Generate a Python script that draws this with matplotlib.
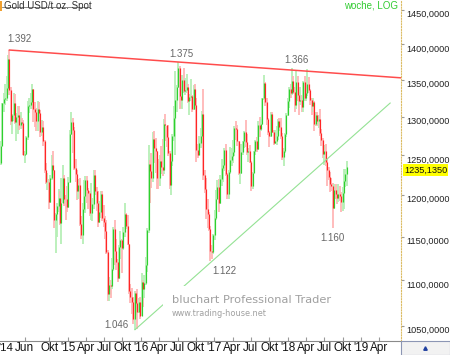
import numpy as np
import pandas as pd
import matplotlib
matplotlib.use('Agg')
import matplotlib.pyplot as plt
import matplotlib.dates as mdates
from matplotlib.patches import Rectangle
from matplotlib.ticker import NullLocator

plt.rcParams['font.family'] = ['Liberation Sans', 'DejaVu Sans']

# weekly gold spot (USD/t oz.), weeks starting Monday 2014-02-03
first_open = 1240
close = [
    # 2014
    1262, 1318, 1324, 1326,
    1339, 1379, 1336, 1294, 1303,
    1318, 1293, 1300, 1302,
    1290, 1293, 1292, 1250,
    1252, 1274, 1315, 1316, 1320,
    1337, 1310, 1306, 1294,
    1311, 1305, 1280, 1287,
    1268, 1231, 1216, 1217, 1192,
    1222, 1238, 1231, 1170,
    1177, 1187, 1197, 1167,
    1191, 1222, 1196, 1195, 1186,
    # 2015
    1216, 1277, 1293, 1283,
    1234, 1227, 1205, 1213,
    1165, 1152, 1183, 1199, 1219,
    1207, 1203, 1178, 1178,
    1189, 1225, 1205, 1190,
    1168, 1180, 1201, 1173, 1168,
    1157, 1132, 1085, 1095,
    1094, 1113, 1159, 1134, 1121,
    1103, 1138, 1146, 1137,
    1156, 1177, 1163, 1142,
    1088, 1081, 1076, 1057, 1086,
    1075, 1065, 1076, 1061,
    # 2016
    1098, 1090, 1097, 1117,
    1158, 1239, 1230, 1221, 1271,
    1259, 1255, 1222, 1221,
    1243, 1235, 1231, 1291,
    1290, 1273, 1253, 1213, 1243,
    1275, 1299, 1323, 1340,
    1366, 1328, 1323, 1350,
    1335, 1336, 1341, 1321, 1327,
    1328, 1310, 1337, 1316,
    1257, 1251, 1266, 1275, 1304,
    1225, 1208, 1183, 1177,
    1159, 1134, 1133, 1152,
    # 2017
    1173, 1196, 1210, 1191, 1220,
    1234, 1238, 1257, 1227,
    1201, 1229, 1244, 1249,
    1254, 1285, 1284, 1268,
    1228, 1228, 1254, 1268, 1280,
    1267, 1254, 1256, 1242,
    1212, 1228, 1255, 1269, 1258,
    1289, 1284, 1291, 1325,
    1346, 1320, 1297, 1280,
    1275, 1304, 1280, 1266, 1269,
    1275, 1294, 1287, 1275,
    1248, 1256, 1278, 1303,
    # 2018
    1322, 1338, 1332, 1349, 1333,
    1316, 1347, 1330, 1322,
    1323, 1313, 1347, 1325,
    1332, 1345, 1336, 1323, 1315,
    1320, 1291, 1302, 1294,
    1297, 1279, 1270, 1252,
    1256, 1241, 1231, 1223, 1214,
    1212, 1184, 1206, 1201,
    1197, 1201, 1199, 1192,
    1203, 1218, 1227, 1235.135,
]
high = [
    1268, 1319, 1332, 1345,
    1355, 1385, 1392, 1340, 1304,
    1332, 1331, 1305, 1315,
    1315, 1306, 1299, 1296,
    1256, 1275, 1321, 1325, 1332,
    1345, 1338, 1320, 1312,
    1322, 1320, 1309, 1296,
    1295, 1270, 1240, 1228, 1220,
    1225, 1250, 1255, 1232,
    1178, 1191, 1208, 1205,
    1222, 1238, 1225, 1200, 1212,
    1223, 1283, 1307, 1298,
    1287, 1245, 1232, 1220,
    1221, 1175, 1190, 1219, 1224,
    1224, 1209, 1205, 1215,
    1197, 1232, 1232, 1210,
    1205, 1193, 1205, 1205, 1188,
    1175, 1170, 1135, 1104,
    1100, 1126, 1162, 1170, 1147,
    1124, 1141, 1157, 1148,
    1162, 1191, 1179, 1176,
    1142, 1096, 1091, 1081, 1088,
    1088, 1090, 1080, 1082,
    1108, 1100, 1106, 1127,
    1160, 1263, 1244, 1253, 1280,
    1282, 1272, 1255, 1245,
    1250, 1262, 1271, 1297,
    1304, 1288, 1290, 1256, 1245,
    1278, 1315, 1362, 1343,
    1375, 1370, 1338, 1357,
    1367, 1353, 1358, 1345, 1331,
    1352, 1329, 1343, 1345,
    1325, 1265, 1275, 1286, 1308,
    1338, 1232, 1222, 1195,
    1180, 1163, 1140, 1153,
    1182, 1207, 1219, 1220, 1225,
    1245, 1244, 1260, 1264,
    1228, 1231, 1261, 1260,
    1270, 1288, 1295, 1290,
    1269, 1236, 1264, 1269, 1282,
    1296, 1277, 1260, 1263,
    1243, 1229, 1256, 1270, 1274,
    1294, 1300, 1297, 1326,
    1357, 1347, 1326, 1298,
    1282, 1306, 1306, 1283, 1283,
    1288, 1297, 1299, 1299,
    1279, 1260, 1279, 1305,
    1326, 1340, 1345, 1366, 1355,
    1340, 1362, 1356, 1333,
    1340, 1329, 1349, 1356,
    1346, 1365, 1354, 1338, 1326,
    1326, 1321, 1307, 1307,
    1303, 1310, 1284, 1272,
    1263, 1265, 1245, 1235, 1229,
    1221, 1215, 1214, 1214,
    1206, 1214, 1211, 1204,
    1210, 1233, 1233, 1243,
]
low = [
    1238, 1262, 1307, 1316,
    1322, 1336, 1330, 1290, 1277,
    1295, 1291, 1268, 1277,
    1283, 1284, 1285, 1251,
    1240, 1250, 1270, 1305, 1310,
    1310, 1293, 1287, 1281,
    1282, 1300, 1273, 1275,
    1262, 1228, 1214, 1207, 1183,
    1190, 1219, 1225, 1160,
    1131, 1150, 1180, 1164,
    1142, 1190, 1187, 1170, 1180,
    1185, 1215, 1276, 1253,
    1232, 1217, 1194, 1195,
    1163, 1147, 1142, 1180, 1178,
    1191, 1183, 1175, 1170,
    1169, 1183, 1200, 1181,
    1162, 1167, 1173, 1169, 1162,
    1147, 1130, 1077, 1077,
    1080, 1090, 1111, 1118, 1112,
    1098, 1102, 1124, 1108,
    1135, 1150, 1159, 1140,
    1085, 1075, 1063, 1052, 1046,
    1062, 1047, 1064, 1058,
    1061, 1071, 1080, 1095,
    1110, 1155, 1191, 1209, 1217,
    1240, 1228, 1208, 1208,
    1212, 1227, 1224, 1226,
    1268, 1261, 1249, 1208, 1200,
    1236, 1268, 1251, 1306,
    1339, 1310, 1312, 1311,
    1332, 1330, 1332, 1318, 1302,
    1322, 1306, 1309, 1310,
    1241, 1246, 1250, 1260, 1270,
    1219, 1203, 1171, 1161,
    1157, 1122, 1124, 1130,
    1146, 1170, 1196, 1180, 1189,
    1212, 1216, 1230, 1224,
    1195, 1196, 1226, 1237,
    1240, 1249, 1270, 1262,
    1225, 1214, 1226, 1250, 1260,
    1261, 1250, 1241, 1240,
    1205, 1208, 1228, 1250, 1254,
    1257, 1274, 1282, 1289,
    1323, 1315, 1289, 1276,
    1261, 1273, 1279, 1263, 1264,
    1263, 1270, 1282, 1271,
    1244, 1236, 1253, 1274,
    1301, 1312, 1325, 1330, 1331,
    1306, 1310, 1322, 1302,
    1316, 1307, 1307, 1322,
    1321, 1328, 1332, 1316, 1302,
    1306, 1282, 1288, 1288,
    1286, 1275, 1262, 1246,
    1238, 1237, 1211, 1219, 1204,
    1205, 1160, 1183, 1195,
    1189, 1192, 1193, 1180,
    1181, 1183, 1210, 1211,
]

# trend lines (date, price)
res_dates = ['2014-03-17', '2019-07-19']
res_prices = [1392, 1353]
sup_dates = ['2015-12-02', '2019-05-26']
sup_prices = [1046, 1318.6]

# marked extremes: date, price, label offset in px
marks = [('2014-03-17', 1392, (10, 11)),
         ('2016-07-04', 1375, (3, 8)),
         ('2018-01-22', 1366, (5, 8)),
         ('2015-11-30', 1046, (-18, 5)),
         ('2016-12-12', 1122, (14, -10)),
         ('2018-08-13', 1160, (0, -10))]

yticks = [1050, 1100, 1150, 1200, 1250, 1300, 1350, 1400, 1450]
xtick_dates = ['2014-06-01', '2014-10-01',
               '2015-01-01', '2015-04-01', '2015-07-01', '2015-10-01',
               '2016-01-01', '2016-04-01', '2016-07-01', '2016-10-01',
               '2017-01-01', '2017-04-01', '2017-07-01', '2017-10-01',
               '2018-01-01', '2018-04-01', '2018-07-01', '2018-10-01',
               '2019-01-01', '2019-04-01']
xtick_labels = ['Jun', 'Okt', "'15", 'Apr', 'Jul', 'Okt', "'16", 'Apr', 'Jul', 'Okt',
                "'17", 'Apr', 'Jul', 'Okt', "'18", 'Apr', 'Jul', 'Okt', "'19", 'Apr']

close = np.array(close, dtype=float)
high = np.array(high, dtype=float)
low = np.array(low, dtype=float)
opn = np.r_[first_open, close[:-1]]  # weekly open taken as previous close
dates = pd.date_range('2014-02-03', periods=len(close), freq='W-MON')
x = mdates.date2num(dates)

W, H = 450, 355
fig = plt.figure(figsize=(W / 100, H / 100), dpi=100)
ax = fig.add_axes([0, 14 / H, 401 / W, 341 / H])
ax.set_yscale('log')

up = close >= opn
ax.vlines(x, low, high, colors=np.where(up, '#b6efb6', '#ffb6b6'), lw=1.3)
ax.vlines(x, np.minimum(opn, close), np.maximum(opn, close),
          colors=np.where(up, '#2fd02f', '#ff2626'), lw=0.85)

ax.plot(mdates.date2num(pd.to_datetime(res_dates)), res_prices, color='#ff4c4c', lw=1.1)
ax.plot(mdates.date2num(pd.to_datetime(sup_dates)), sup_prices, color='#94e294', lw=0.8)

for d, v, off in marks:
    ax.annotate(f"{v / 1000:.3f}", (mdates.date2num(pd.Timestamp(d)), v), xytext=off,
                textcoords='offset pixels', ha='center', va='center',
                fontsize=7, color='#666666')

ax.set_xlim(mdates.date2num(pd.Timestamp('2014-01-29')), mdates.date2num(pd.Timestamp('2019-07-19')))
ax.set_ylim(1034, 1465)

ax.yaxis.tick_right()
ax.set_yticks(yticks)
ax.set_yticklabels([f"{v:.4f}".replace('.', ',') for v in yticks])
ax.yaxis.set_minor_locator(NullLocator())
for lab in ax.get_yticklabels():
    lab.set_va('top')
ax.tick_params(axis='y', direction='out', length=2, color='#999999', labelsize=6.6,
               labelcolor='#222222', pad=1.5)

ax.set_xticks(mdates.date2num(pd.to_datetime(xtick_dates)))
ax.set_xticklabels(xtick_labels)
ax.tick_params(axis='x', direction='in', length=3, color='#999999', labelsize=8.5,
               labelcolor='#111111', pad=1)

ax.spines['left'].set_visible(False)
ax.spines['top'].set_visible(False)
ax.spines['right'].set_linestyle((0, (1, 1.5)))
ax.spines['right'].set_color('#dcbc64')
ax.spines['bottom'].set_color('#8a8a8a')

# current price marker
ax.annotate(f"{close[-1]:.4f}".replace('.', ','), (1, close[-1]),
            xycoords=('axes fraction', 'data'), xytext=(3, -3), textcoords='offset pixels',
            ha='left', va='center', fontsize=6.6, color='#111111', annotation_clip=False,
            bbox=dict(boxstyle='square,pad=0.12', fc='#ffff00', ec='none'))

fig.text(-1.5 / W, 1 - 348 / H, "'14", fontsize=8.2, color='#111111', ha='left', va='center')

# header
fig.add_artist(Rectangle((0, 1 - 11 / H), 2 / W, 10 / H, transform=fig.transFigure,
                         fc='#f0a030', ec='none'))
fig.add_artist(plt.Line2D([2 / W, 89 / W], [1 - 7 / H, 1 - 7 / H], transform=fig.transFigure,
                          color='#777777', lw=0.6))
fig.text(4 / W, 1 - 6 / H, 'Gold USD/t oz. Spot', fontsize=7, color='#333333', va='center')
fig.text(398 / W, 1 - 6 / H, 'woche, LOG', fontsize=7, color='#33cc33', va='center', ha='right')

# watermark
fig.add_artist(Rectangle((163 / W, 1 - 322 / H), 175 / W, 36 / H, transform=fig.transFigure,
                         fc='white', ec='none', zorder=2))
fig.text(172 / W, 1 - 300 / H, 'bluchart Professional Trader', fontsize=8.2,
         family='DejaVu Sans', color='#a0a0a0', va='center', zorder=3)
fig.text(172 / W, 1 - 314 / H, 'www.trading-house.net', fontsize=5.9,
         family='DejaVu Sans', color='#a0a0a0', va='center', zorder=3)

# bottom-right box
fig.add_artist(Rectangle((401 / W, 0.5 / H), 48.5 / W, 13.5 / H, transform=fig.transFigure,
                         fc='#f2f2f2', ec='#8c96b4', lw=0.8))
fig.add_artist(plt.Line2D([425 / W], [1 - 348 / H], transform=fig.transFigure,
                          marker='^', ms=2.5, color='#2040a0', lw=0))

fig.savefig('out.png', dpi=100)
